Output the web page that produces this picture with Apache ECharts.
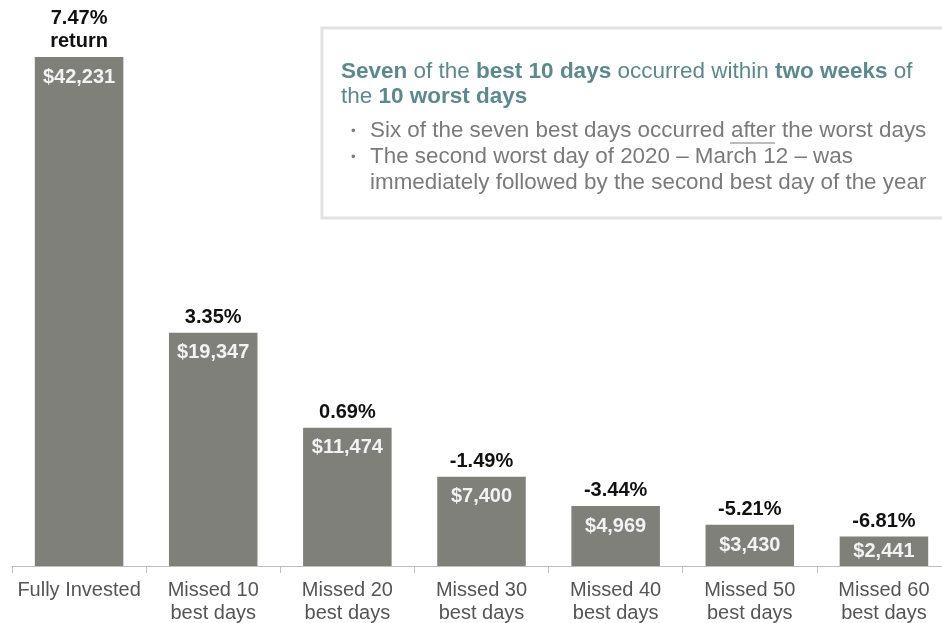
<!DOCTYPE html>
<html>
<head>
<meta charset="utf-8">
<script src="https://cdn.jsdelivr.net/npm/echarts@6/dist/echarts.min.js"></script>
<style>
html,body{margin:0;padding:0;background:#fff;}
#chart{width:942px;height:623px;}
</style>
</head>
<body>
<div id="chart"></div>
<script>
const categories = ['Fully Invested', 'Missed 10\nbest days', 'Missed 20\nbest days', 'Missed 30\nbest days', 'Missed 40\nbest days', 'Missed 50\nbest days', 'Missed 60\nbest days'];
const endingValues = [42231, 19347, 11474, 7400, 4969, 3430, 2441];
const annualReturns = [7.47, 3.35, 0.69, -1.49, -3.44, -5.21, -6.81];

const FONT = '"Liberation Sans", Arial, Helvetica, sans-serif';
const BAR = '#80807a';
const TEAL = '#5b8a8d';
const GREY_TXT = '#7a7a7a';

const chart = echarts.init(document.getElementById('chart'));

const insideData = endingValues.map((v, i) => ({
  value: v,
  label: { position: (v < 4000) ? 'inside' : 'insideTop' }
}));

chart.setOption({
  animation: false,
  backgroundColor: '#fff',
  grid: { left: 12, width: 939, top: 57, bottom: 57, containLabel: false, outerBoundsMode: 'none' },
  xAxis: {
    type: 'category',
    data: categories,
    axisLine: { show: true, lineStyle: { color: '#bdbdbd', width: 1 } },
    axisTick: { show: true, length: 7, lineStyle: { color: '#bdbdbd' } },
    axisLabel: {
      margin: 13, fontSize: 20, lineHeight: 23, color: '#555', fontFamily: FONT, interval: 0
    }
  },
  yAxis: { type: 'value', min: 0, max: 42231, show: false, splitLine: { show: false } },
  series: [
    {
      type: 'bar',
      data: endingValues,
      barCategoryGap: '34%',
      itemStyle: { color: BAR },
      label: {
        show: true,
        position: 'top',
        distance: 4,
        fontFamily: FONT,
        fontSize: 20,
        fontWeight: 'bold',
        lineHeight: 23,
        color: '#111',
        formatter: p => annualReturns[p.dataIndex].toFixed(2) + '%' + (p.dataIndex === 0 ? '\nreturn' : '')
      },
      z: 2
    },
    {
      type: 'bar',
      data: insideData,
      barGap: '-100%',
      barCategoryGap: '34%',
      itemStyle: { color: 'rgba(0,0,0,0)' },
      label: {
        show: true,
        position: 'insideTop',
        distance: 10,
        fontFamily: FONT,
        fontSize: 20,
        fontWeight: 'bold',
        color: '#f2f2f2',
        formatter: p => '$' + p.value.toLocaleString('en-US')
      },
      z: 3
    }
  ],
  graphic: [
    {
      type: 'rect',
      shape: { x: 322, y: 28, width: 640, height: 190 },
      style: { fill: '#fff', stroke: '#e2e2e2', lineWidth: 3 },
      z: 10
    },
    {
      type: 'text', x: 341, y: 72, z: 11,
      style: {
        text: '{b|Seven} of the {b|best 10 days} occurred within {b|two weeks} of',
        fill: TEAL, font: '22.5px ' + FONT, verticalAlign: 'middle',
        rich: { b: { fontWeight: 'bold', fontSize: 22.5, fontFamily: FONT, fill: TEAL } }
      }
    },
    {
      type: 'text', x: 341, y: 97, z: 11,
      style: {
        text: 'the {b|10 worst days}',
        fill: TEAL, font: '22.5px ' + FONT, verticalAlign: 'middle',
        rich: { b: { fontWeight: 'bold', fontSize: 22.5, fontFamily: FONT, fill: TEAL } }
      }
    },
    { type: 'text', x: 351, y: 131, z: 11, style: { text: '•', fill: GREY_TXT, font: '13px ' + FONT, verticalAlign: 'middle' } },
    { type: 'text', x: 370, y: 131, z: 11, style: { text: 'Six of the seven best days occurred after the worst days', fill: GREY_TXT, font: '22.4px ' + FONT, verticalAlign: 'middle' } },
    { type: 'line', z: 11, shape: { x1: 730, y1: 143, x2: 775, y2: 143 }, style: { stroke: GREY_TXT, lineWidth: 1.2 } },
    { type: 'text', x: 351, y: 157, z: 11, style: { text: '•', fill: GREY_TXT, font: '13px ' + FONT, verticalAlign: 'middle' } },
    { type: 'text', x: 370, y: 157, z: 11, style: { text: 'The second worst day of 2020 – March 12 – was', fill: GREY_TXT, font: '22.4px ' + FONT, verticalAlign: 'middle' } },
    { type: 'text', x: 370, y: 183, z: 11, style: { text: 'immediately followed by the second best day of the year', fill: GREY_TXT, font: '22.4px ' + FONT, verticalAlign: 'middle' } }
  ]
});
</script>
</body>
</html>
